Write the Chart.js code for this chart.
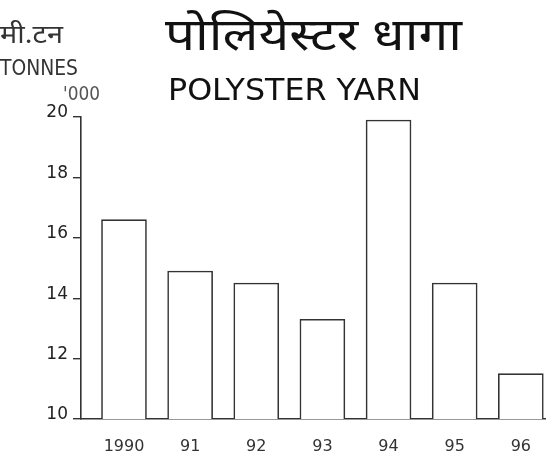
<!DOCTYPE html>
<html>
<head>
<meta charset="utf-8">
<script src="https://cdn.jsdelivr.net/npm/chart.js@4/dist/chart.umd.min.js"></script>
<style>
  html, body { margin: 0; padding: 0; background: #fff; }
  #wrap { width: 549px; height: 473px; position: relative; }
</style>
</head>
<body>
<div id="wrap"><canvas id="c" width="549" height="473"></canvas></div>
<script>
const categories = ["1990", "91", "92", "93", "94", "95", "96"];
const values = [16.6, 14.9, 14.5, 13.3, 19.9, 14.5, 11.5];
const yTicks = [10, 12, 14, 16, 18, 20];
const titleHindi = "पोलियेस्टर धागा";
const titleEnglish = "POLYSTER YARN";
const unitHindi = "मी.टन";
const unitEnglish = "TONNES";
const unitScale = "'000";

function fitText(ctx, text, x, y, width) {
  const w = ctx.measureText(text).width;
  ctx.save();
  ctx.translate(x, y);
  ctx.scale(width / w, 1);
  ctx.fillText(text, 0, 0);
  ctx.restore();
}

const textPlugin = {
  id: 'texts',
  afterDraw(chart) {
    const ctx = chart.ctx;
    ctx.save();
    ctx.fillStyle = '#111';
    ctx.textBaseline = 'alphabetic';
    ctx.textAlign = 'left';
    ctx.font = '44px "Noto Sans Devanagari", "Noto Sans", sans-serif';
    fitText(ctx, titleHindi, 165, 50, 297);
    ctx.font = '31px "DejaVu Sans", sans-serif';
    fitText(ctx, titleEnglish, 168, 100, 253);
    ctx.fillStyle = '#333';
    ctx.font = '26px "Noto Sans Devanagari", "Noto Sans", sans-serif';
    fitText(ctx, unitHindi, 0, 43, 63);
    ctx.font = '21px "DejaVu Sans Condensed", "DejaVu Sans", sans-serif';
    fitText(ctx, unitEnglish, 0, 75, 78);
    ctx.fillStyle = '#555';
    ctx.font = '19px "DejaVu Sans Condensed", "DejaVu Sans", sans-serif';
    fitText(ctx, unitScale, 63, 100, 37);
    ctx.restore();
  }
};

new Chart(document.getElementById('c'), {
  type: 'bar',
  data: {
    datasets: [{
      data: values.map((v, i) => ({ x: i, y: v })),
      backgroundColor: '#ffffff',
      borderColor: '#333333',
      borderWidth: 1.6,
      borderSkipped: 'bottom',
      barThickness: 45
    }]
  },
  options: {
    responsive: false,
    animation: false,
    events: [],
    layout: { padding: { top: 117, right: 0, bottom: 0, left: 0 } },
    plugins: { legend: { display: false }, tooltip: { enabled: false }, title: { display: false } },
    scales: {
      x: {
        type: 'linear',
        offset: false,
        min: -0.65,
        max: 6.38,
        afterBuildTicks: (scale) => { scale.ticks = categories.map((_, i) => ({ value: i })); },
        afterFit: (scale) => { scale.height = 54; },
        grid: { display: false, drawTicks: false },
        border: { display: true, color: '#333', width: 1.6 },
        ticks: {
          padding: 18,
          maxRotation: 0,
          autoSkip: false,
          color: '#333',
          font: { family: '"DejaVu Sans", sans-serif', size: 16 },
          callback: (v) => categories[v]
        }
      },
      y: {
        min: 10,
        max: 20,
        afterBuildTicks: (scale) => { scale.ticks = yTicks.map(v => ({ value: v })); },
        afterFit: (scale) => { scale.width = 81; },
        grid: { display: true, drawOnChartArea: false, drawTicks: true, tickLength: 8, color: '#333', lineWidth: 1.4 },
        border: { display: true, color: '#333', width: 1.6 },
        ticks: {
          padding: 5,
          labelOffset: -4,
          color: '#222',
          font: { family: '"DejaVu Sans", sans-serif', size: 17 }
        }
      }
    }
  },
  plugins: [textPlugin]
});
</script>
</body>
</html>
